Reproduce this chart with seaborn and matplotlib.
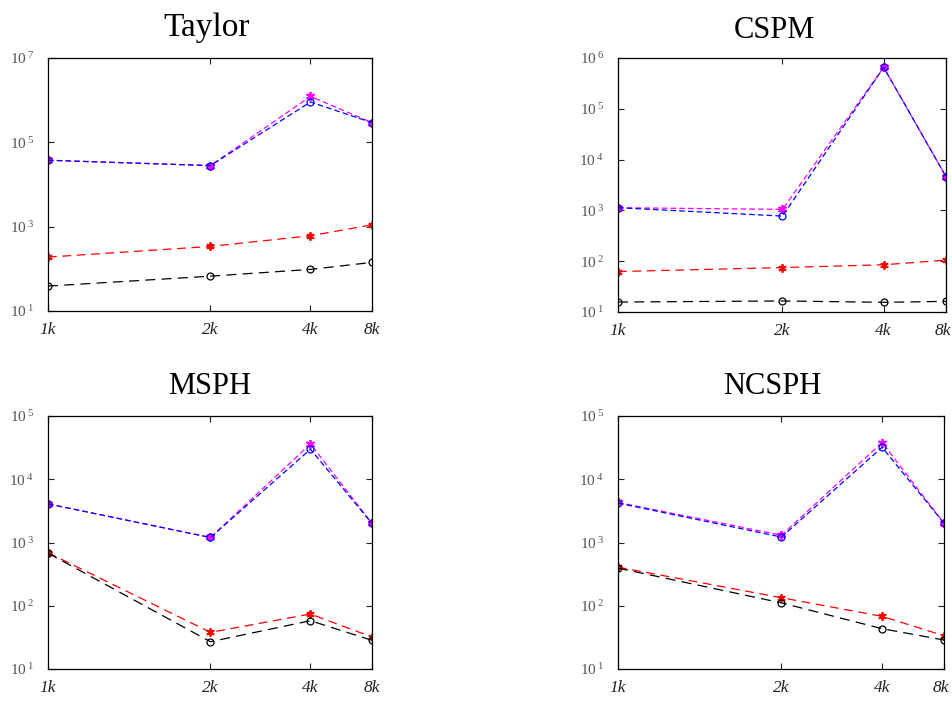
import numpy as np
import pandas as pd
import matplotlib
matplotlib.use("Agg")
import matplotlib.pyplot as plt
import matplotlib.transforms as mtransforms
import seaborn as sns

sns.set_theme(style="white")
plt.rcParams['font.family'] = ['Liberation Serif', 'DejaVu Serif']
plt.rcParams['mathtext.fontset'] = 'custom'
plt.rcParams['mathtext.rm'] = 'Liberation Serif'
plt.rcParams['mathtext.it'] = 'Liberation Serif:italic'
plt.rcParams['mathtext.default'] = 'it'

# ---------------- data ----------------
n_particles = [1000, 2000, 4000, 8000]
x_labels = ["1k", "2k", "4k", "8k"]
titles = ["Taylor", "CSPM", "MSPH", "NCSPH"]

taylor_black = [39, 67, 97, 142]
taylor_red = [190, 340, 608, 1107]
taylor_blue = [37600, 28100, 906000, 293000]
taylor_magenta = [37600, 28100, 1230000, 293000]

cspm_black = [15.7, 16.5, 15.5, 16.2]
cspm_red = [62.5, 75, 85, 105]
cspm_blue = [1130, 773, 655000, 4610]
cspm_magenta = [1130, 1047, 655000, 4610]

msph_black = [679, 27, 58, 28.4]
msph_red = [690, 38, 74, 32]
msph_blue = [4080, 1200, 29800, 2000]
msph_magenta = [4080, 1200, 36100, 2000]

ncsph_black = [394, 111, 43.4, 28.7]
ncsph_red = [408, 134, 68, 33.6]
ncsph_blue = [4200, 1220, 32000, 2020]
ncsph_magenta = [4300, 1305, 38000, 2020]

ytick_exps = {
    "Taylor": [1, 3, 5, 7],
    "CSPM": [1, 2, 3, 4, 5, 6],
    "MSPH": [1, 2, 3, 4, 5],
    "NCSPH": [1, 2, 3, 4, 5],
}

panels = {
    "Taylor": (taylor_black, taylor_red, taylor_blue, taylor_magenta),
    "CSPM": (cspm_black, cspm_red, cspm_blue, cspm_magenta),
    "MSPH": (msph_black, msph_red, msph_blue, msph_magenta),
    "NCSPH": (ncsph_black, ncsph_red, ncsph_blue, ncsph_magenta),
}

# ---------------- layout ----------------
W, H = 952, 701
fig = plt.figure(figsize=(W / 100, H / 100), dpi=100)

boxes = {  # left, top, right, bottom in pixels
    "Taylor": (48, 58, 372, 311),
    "CSPM": (618, 58, 946, 312),
    "MSPH": (48, 416, 372, 669),
    "NCSPH": (618, 416, 944, 669),
}
title_pos = {  # center x, baseline y, size
    "Taylor": (207, 36, 24),
    "CSPM": (774, 38, 22),
    "MSPH": (210, 394, 22),
    "NCSPH": (772, 394, 22),
}

A = 0.7


def fwd(n):
    n = np.asarray(n, dtype=float)
    return -np.power(np.clip(n, 1e-9, None) / 1000.0, -A)


def inv(y):
    y = np.asarray(y, dtype=float)
    return 1000.0 * np.power(np.clip(-y, 1e-9, None), -1.0 / A)


ASTER = (6, 2, 0)
styles = [
    # color, marker, face, dashes, size
    ("red", ASTER, "red", (7, 4.5), 6),
    ("black", "o", "none", (8, 5), 5),
    ("#ff00ff", ASTER, "#ff00ff", (4.5, 2.5), 6.5),
    ("blue", "o", "none", (4.5, 2.5), 5),
]

for name in titles:
    l, t, r, b = boxes[name]
    ax = fig.add_axes([l / W, 1 - b / H, (r - l) / W, (b - t) / H])
    black, red, blue, magenta = panels[name]
    series = [red, black, magenta, blue]
    for vals, (col, mk, face, dash, ms) in zip(series, styles):
        df = pd.DataFrame({"n": n_particles, "v": vals})
        sns.lineplot(data=df, x="n", y="v", ax=ax, color=col, marker=mk,
                     markerfacecolor=face, markeredgecolor=col,
                     markersize=ms, markeredgewidth=1.3 if mk == ASTER else 0.9,
                     linewidth=0.9, dashes=False, linestyle=(0, dash),
                     estimator=None, sort=False, legend=False)
    ax.set_xscale("function", functions=(fwd, inv))
    ax.set_yscale("log")
    ax.set_xlim(n_particles[0], n_particles[-1])
    exps = ytick_exps[name]
    ax.set_ylim(10 ** exps[0], 10 ** exps[-1])
    ax.set_xticks(n_particles)
    ax.set_xticklabels(x_labels)
    ax.set_yticks([10.0 ** e for e in exps])
    ax.set_yticklabels([r"$\mathit{10}^{\;\mathit{%d}}$" % e for e in exps])
    ax.yaxis.set_minor_locator(matplotlib.ticker.NullLocator())
    ax.xaxis.set_minor_locator(matplotlib.ticker.NullLocator())
    ax.tick_params(axis="both", which="major", direction="in", length=4,
                   width=0.8, top=True, right=True, bottom=True, left=True,
                   color="#222222")
    ax.tick_params(axis="x", pad=8, labelsize=12.5, labelcolor="#222222")
    ax.tick_params(axis="y", pad=10, labelsize=11, labelcolor="#555555")
    xl = ax.get_xticklabels()
    for lab in xl:
        lab.set_fontstyle("italic")
    if r > 900:
        shift = mtransforms.ScaledTranslation(-3 / 100, 0, fig.dpi_scale_trans)
        xl[-1].set_transform(xl[-1].get_transform() + shift)
    ax.set_xlabel("")
    ax.set_ylabel("")
    for sp in ax.spines.values():
        sp.set_color("black")
        sp.set_linewidth(0.9)
    ax.grid(False)
    cx, by, fs = title_pos[name]
    fig.text(cx / W, 1 - by / H, name, ha="center", va="baseline",
             fontsize=fs, color="black")

fig.savefig("out.png", dpi=100)
